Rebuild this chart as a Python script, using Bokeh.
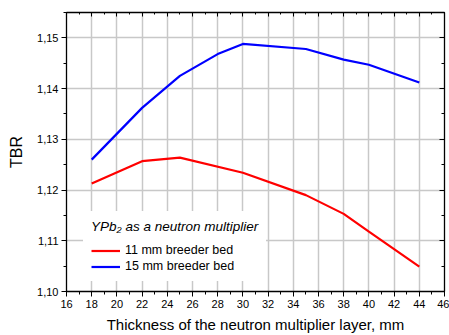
from bokeh.plotting import figure
from bokeh.models import (FixedTicker, CustomJSTickFormatter, LinearAxis, Range1d,
                          Legend, LegendItem)
from bokeh.embed import file_html
from bokeh.resources import INLINE

# Data
x_11 = [18, 22, 25, 30, 35, 38, 40, 44]
tbr_11 = [1.1213, 1.1257, 1.1264, 1.1234, 1.1190, 1.1153, 1.1118, 1.1049]
x_15 = [18, 22, 25, 28, 30, 35, 38, 40, 44]
tbr_15 = [1.1260, 1.1362, 1.1425, 1.1468, 1.1488, 1.1478, 1.1457, 1.1447, 1.1412]
x_ticks = list(range(16, 47, 2))
x_minor = list(range(16, 47, 1))
y_ticks = [1.10, 1.11, 1.12, 1.13, 1.14, 1.15]
y_minor = [1.10, 1.105, 1.11, 1.115, 1.12, 1.125, 1.13, 1.135, 1.14, 1.145, 1.15, 1.155]

FONT = "Liberation Sans"

p = figure(width=449, height=335, output_backend="svg", toolbar_location=None,
           x_range=Range1d(16, 46), y_range=Range1d(1.10, 1.155),
           min_border_left=66, min_border_right=5, min_border_top=12, min_border_bottom=10)

p.xaxis.ticker = FixedTicker(ticks=x_ticks, minor_ticks=x_minor)
p.yaxis.ticker = FixedTicker(ticks=y_ticks, minor_ticks=y_minor)
p.yaxis.formatter = CustomJSTickFormatter(code="return tick.toFixed(2).replace('.', ',');")

for ax in (p.xaxis[0], p.yaxis[0]):
    ax.major_label_text_font = FONT
    ax.major_label_text_font_size = "11px"
    ax.major_label_text_color = "black"
    ax.axis_label_text_font = FONT
    ax.axis_label_text_font_size = "15px"
    ax.axis_label_text_font_style = "normal"
    ax.axis_label_text_color = "black"
    ax.axis_line_color = "black"
    ax.axis_line_width = 1.3
    ax.major_tick_line_color = "black"
    ax.minor_tick_line_color = "black"
    ax.major_tick_out = 5
    ax.major_tick_in = 0
    ax.minor_tick_out = 3
    ax.minor_tick_in = 0

p.xaxis.axis_label = "Thickness of the neutron multiplier layer, mm"
p.yaxis.axis_label = "TBR"
p.yaxis.axis_label_text_font_size = "16px"
p.xaxis.major_label_standoff = 3
p.xaxis.axis_label_standoff = 5
p.yaxis.major_label_standoff = 3
p.yaxis.axis_label_standoff = 9

# Top and right axes (ticks only, inward)
blank = CustomJSTickFormatter(code="return '';")
top = LinearAxis(ticker=FixedTicker(ticks=x_ticks, minor_ticks=x_minor), formatter=blank,
                 major_tick_in=4, major_tick_out=0, minor_tick_in=2, minor_tick_out=0,
                 major_label_standoff=0, axis_line_color="black", axis_line_width=1.3,
                 major_label_text_font_size="1px")
right = LinearAxis(ticker=FixedTicker(ticks=y_ticks, minor_ticks=y_minor), formatter=blank,
                   major_tick_in=5, major_tick_out=0, minor_tick_in=3, minor_tick_out=0,
                   major_label_standoff=0, axis_line_color="black", axis_line_width=1.3,
                   major_label_text_font_size="1px")
p.add_layout(top, "above")
p.add_layout(right, "right")

p.xgrid.ticker = FixedTicker(ticks=x_ticks)
p.ygrid.ticker = FixedTicker(ticks=y_ticks)
p.grid.grid_line_color = "#c8c8c8"
p.grid.grid_line_width = 1.5
p.outline_line_color = "black"

r11 = p.line(x_11, tbr_11, line_color="#ff0000", line_width=2.2)
r15 = p.line(x_15, tbr_15, line_color="#0000ff", line_width=2.2)

legend = Legend(items=[LegendItem(label="11 mm breeder bed", renderers=[r11]),
                       LegendItem(label="15 mm breeder bed", renderers=[r15])],
                location=(17, 10), title="YPb\u2082 as a neutron multiplier",
                title_text_font=FONT, title_text_font_style="italic",
                title_text_font_size="13.5px", title_standoff=9,
                title_text_color="black",
                label_text_font=FONT, label_text_font_size="12.5px",
                label_text_color="black",
                glyph_width=29, glyph_height=13, label_height=13, spacing=2,
                padding=8, margin=0, border_line_alpha=0,
                background_fill_color="white", background_fill_alpha=1.0)
p.add_layout(legend, "center")

open("out.html", "w").write(file_html(p, INLINE))
